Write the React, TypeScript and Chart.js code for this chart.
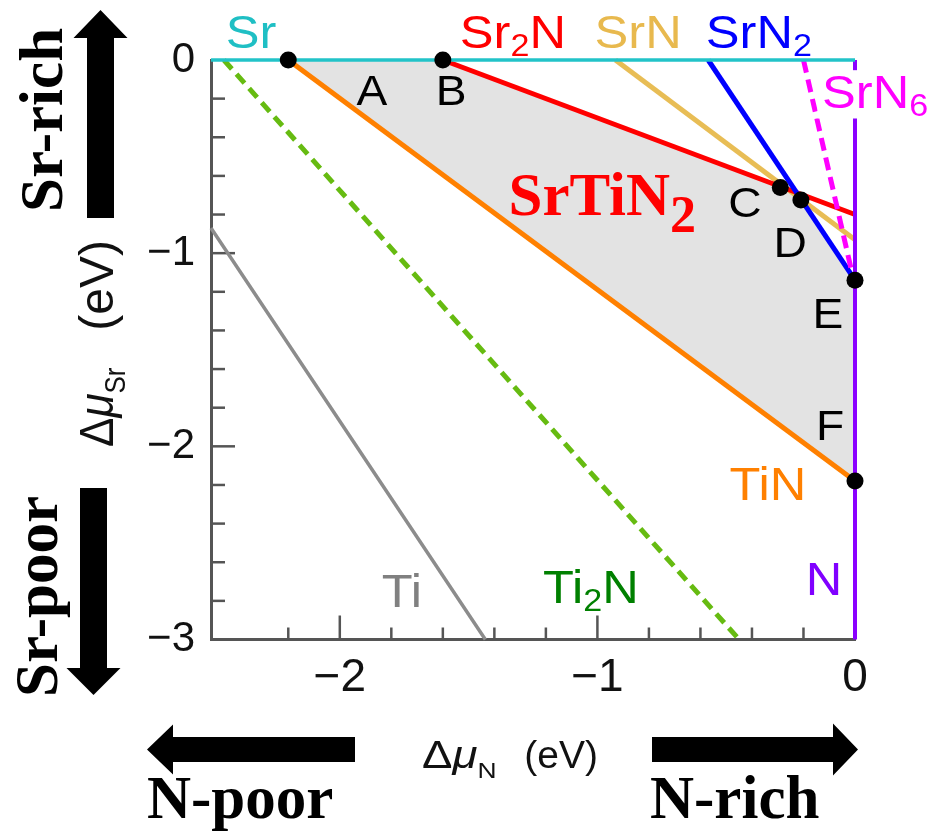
import React, { useEffect, useRef } from 'react';
import { Chart, registerables } from 'chart.js';

Chart.register(...registerables);

// Axis ranges (eV)
const muNRange = [-2.5, 0];
const muSrRange = [-3, 0];

// Boundary lines of the competing phases: [Δμ_N] and [Δμ_Sr] end points
const srN = [-2.5, 0];
const srSr = [0, 0];
const sr2nN = [-1.6, 0];
const sr2nSr = [0, -0.8];
const srnN = [-0.93, 0];
const srnSr = [0, -0.93];
const srn2N = [-0.57, 0];
const srn2Sr = [0, -1.14];
const srn6N = [-0.2, 0];
const srn6Sr = [0, -1.17];
const nN = [0, 0];
const nSr = [0, -3];
const tinN = [-2.2, 0];
const tinSr = [0, -2.18];
const ti2nN = [-2.45, -0.45];
const ti2nSr = [0, -3];
const tiN = [-2.5, -1.435];
const tiSr = [-0.87, -3];

// Stability region of SrTiN2, corners A..F
const regionN = [-2.2, -1.6, -0.29, -0.21, 0, 0];
const regionSr = [0, 0, -0.66, -0.725, -1.14, -2.18];

// Text labels: name, subscript, trailing text, colour, Δμ_N, Δμ_Sr
const phaseLabels = [
  { a: 'Sr', s: '', b: '', c: '#1fbfc4', x: -2.345, y: 0.062 },
  { a: 'Sr', s: '2', b: 'N', c: '#ff0000', x: -1.328, y: 0.062 },
  { a: 'SrN', s: '', b: '', c: '#e8b94e', x: -0.842, y: 0.062 },
  { a: 'SrN', s: '2', b: '', c: '#0000ff', x: -0.373, y: 0.062 },
  { a: 'SrN', s: '6', b: '', c: '#ff00ff', x: 0.078, y: -0.248 },
  { a: 'TiN', s: '', b: '', c: '#ff8000', x: -0.338, y: -2.277 },
  { a: 'N', s: '', b: '', c: '#8000ff', x: -0.12, y: -2.769 },
  { a: 'Ti', s: '2', b: 'N', c: '#008000', x: -1.025, y: -2.811 },
  { a: 'Ti', s: '', b: '', c: '#808080', x: -1.759, y: -2.831 },
];
const cornerNames = ['A', 'B', 'C', 'D', 'E', 'F'];
const cornerLabelN = [-1.875, -1.568, -0.427, -0.252, -0.105, -0.097];
const cornerLabelSr = [-0.233, -0.233, -0.813, -1.02, -1.387, -1.967];

const SANS = '"Liberation Sans", Arial, sans-serif';
const SERIF = '"Liberation Serif", "Times New Roman", serif';

type Run = { t: string; size: number; dy?: number; italic?: boolean };

function drawRuns(
  ctx: CanvasRenderingContext2D,
  runs: Run[],
  x: number,
  y: number,
  o: { align?: 'left' | 'center' | 'right'; family: string; weight?: string; color: string; sx?: number; sy?: number; rotate?: number; bg?: string }
) {
  ctx.save();
  ctx.translate(x, y);
  if (o.rotate) ctx.rotate(o.rotate);
  ctx.scale(o.sx ?? 1, o.sy ?? 1);
  const fonts = runs.map((r) => `${r.italic ? 'italic ' : ''}${o.weight ?? 'normal'} ${r.size}px ${o.family}`);
  const widths = runs.map((r, i) => {
    ctx.font = fonts[i];
    return ctx.measureText(r.t).width;
  });
  const total = widths.reduce((p, w) => p + w, 0);
  let cx = o.align === 'center' ? -total / 2 : o.align === 'right' ? -total : 0;
  if (o.bg) {
    const h = runs[0].size;
    ctx.fillStyle = o.bg;
    ctx.fillRect(cx - 4, -h * 0.82, total + 8, h * 1.05);
  }
  ctx.fillStyle = o.color;
  ctx.textBaseline = 'alphabetic';
  ctx.textAlign = 'left';
  runs.forEach((r, i) => {
    ctx.font = fonts[i];
    ctx.fillText(r.t, cx, r.dy ?? 0);
    cx += widths[i];
  });
  ctx.restore();
}

function blockArrow(ctx: CanvasRenderingContext2D, x1: number, y1: number, x2: number, y2: number, shaft: number, head: number, headLen: number) {
  const dx = x2 - x1;
  const dy = y2 - y1;
  const len = Math.hypot(dx, dy);
  ctx.save();
  ctx.translate(x1, y1);
  ctx.rotate(Math.atan2(dy, dx));
  ctx.fillStyle = '#000';
  ctx.beginPath();
  ctx.moveTo(0, -shaft / 2);
  ctx.lineTo(len - headLen, -shaft / 2);
  ctx.lineTo(len - headLen, -head / 2);
  ctx.lineTo(len, 0);
  ctx.lineTo(len - headLen, head / 2);
  ctx.lineTo(len - headLen, shaft / 2);
  ctx.lineTo(0, shaft / 2);
  ctx.closePath();
  ctx.fill();
  ctx.restore();
}

const isMajor = (v: number) => Math.abs(v - Math.round(v)) < 1e-6;

const axisTicksPlugin = {
  id: 'inwardTicks',
  beforeDatasetsDraw(chart: any) {
    const { ctx, chartArea, scales } = chart;
    ctx.save();
    ctx.strokeStyle = '#555';
    ctx.lineWidth = 2.5;
    for (const t of scales.x.ticks) {
      if (t.value <= muNRange[0] + 1e-6 || t.value >= muNRange[1] - 1e-6) continue;
      const px = scales.x.getPixelForValue(t.value);
      const len = isMajor(t.value) ? 24 : 12;
      ctx.beginPath();
      ctx.moveTo(px, chartArea.bottom);
      ctx.lineTo(px, chartArea.bottom - len);
      ctx.stroke();
    }
    for (const t of scales.y.ticks) {
      if (t.value <= muSrRange[0] + 1e-6 || t.value >= muSrRange[1] - 1e-6) continue;
      const py = scales.y.getPixelForValue(t.value);
      const len = isMajor(t.value) ? 24 : 14;
      ctx.beginPath();
      ctx.moveTo(chartArea.left, py);
      ctx.lineTo(chartArea.left + len, py);
      ctx.stroke();
    }
    ctx.restore();
  },
};

const annotationPlugin = {
  id: 'phaseAnnotations',
  afterDraw(chart: any) {
    const { ctx, scales } = chart;
    const X = (v: number) => scales.x.getPixelForValue(v);
    const Y = (v: number) => scales.y.getPixelForValue(v);

    // phase names
    for (const l of phaseLabels) {
      const runs: Run[] = [{ t: l.a, size: 46 }];
      if (l.s) runs.push({ t: l.s, size: 31, dy: 8 });
      if (l.b) runs.push({ t: l.b, size: 46 });
      drawRuns(ctx, runs, X(l.x), Y(l.y), {
        align: 'center',
        family: SANS,
        color: l.c,
        sx: 1.1,
        bg: l.s === '6' ? '#ffffff' : undefined,
      });
    }

    // corner letters
    cornerNames.forEach((n, i) => {
      drawRuns(ctx, [{ t: n, size: 42 }], X(cornerLabelN[i]), Y(cornerLabelSr[i]), {
        align: 'center',
        family: SANS,
        color: '#000',
        sx: 1.1,
      });
    });

    // compound name inside the region
    drawRuns(
      ctx,
      [
        { t: 'SrTiN', size: 61 },
        { t: '2', size: 52, dy: 17 },
      ],
      X(-1.345),
      Y(-0.802),
      { align: 'left', family: SERIF, weight: 'bold', color: '#ff0000' }
    );

    // axis titles
    drawRuns(
      ctx,
      [
        { t: 'Δ', size: 38 },
        { t: 'μ', size: 38, italic: true },
        { t: 'N', size: 22, dy: 10 },
      ],
      422,
      768,
      { align: 'left', family: SANS, color: '#111', sx: 1.2 }
    );
    drawRuns(ctx, [{ t: '(eV)', size: 39 }], 598, 768, { align: 'right', family: SANS, color: '#111' });

    drawRuns(
      ctx,
      [
        { t: 'Δ', size: 44 },
        { t: 'μ', size: 44, italic: true },
        { t: 'Sr', size: 26, dy: 11 },
      ],
      113,
      447,
      { align: 'left', family: SANS, color: '#111', rotate: -Math.PI / 2, sy: 1.1 }
    );
    drawRuns(ctx, [{ t: '(eV)', size: 48 }], 113, 240, {
      align: 'right',
      family: SANS,
      color: '#111',
      rotate: -Math.PI / 2,
    });

    // direction arrows and their captions
    blockArrow(ctx, 100.5, 218, 100.5, 10, 27, 54, 28);
    blockArrow(ctx, 93.5, 488, 93.5, 695, 27, 54, 27);
    blockArrow(ctx, 355, 749.5, 147, 749.5, 25, 50, 26);
    blockArrow(ctx, 652, 749.5, 858, 749.5, 25, 52, 25);

    drawRuns(ctx, [{ t: 'Sr-rich', size: 61 }], 62, 212, {
      align: 'left',
      family: SERIF,
      weight: 'bold',
      color: '#000',
      rotate: -Math.PI / 2,
    });
    drawRuns(ctx, [{ t: 'Sr-poor', size: 61 }], 57, 697, {
      align: 'left',
      family: SERIF,
      weight: 'bold',
      color: '#000',
      rotate: -Math.PI / 2,
    });
    drawRuns(ctx, [{ t: 'N-poor', size: 61 }], 147, 818, { align: 'left', family: SERIF, weight: 'bold', color: '#000' });
    drawRuns(ctx, [{ t: 'N-rich', size: 61 }], 650, 818, { align: 'left', family: SERIF, weight: 'bold', color: '#000' });
  },
};

const pts = (xs: number[], ys: number[]) => xs.map((x, i) => ({ x, y: ys[i] }));

const lineSet = (label: string, xs: number[], ys: number[], color: string, width: number, order: number, dash: number[] = []) => ({
  label,
  data: pts(xs, ys),
  showLine: true,
  borderColor: color,
  borderWidth: width,
  borderDash: dash,
  pointRadius: 0,
  fill: false,
  clip: false,
  order,
});

const tickLabel = (v: number) => {
  if (!isMajor(v)) return '';
  const r = Math.round(v);
  return r < 0 ? '\u2212' + Math.abs(r) : String(r);
};

export default function App() {
  const ref = useRef<HTMLCanvasElement | null>(null);

  useEffect(() => {
    if (!ref.current) return;
    const chart = new Chart(ref.current, {
      type: 'scatter',
      data: {
        datasets: [
          {
            label: 'corners',
            data: pts(regionN, regionSr),
            showLine: false,
            pointRadius: 8.5,
            pointBackgroundColor: '#000',
            pointBorderWidth: 0,
            clip: false,
            order: 0,
          } as any,
          lineSet('Sr', srN, srSr, '#22c3c8', 3.5, 1),
          lineSet('N', nN, nSr, '#8a00ff', 4, 1),
          lineSet('SrN6', srn6N, srn6Sr, '#ff00ff', 5, 2, [13, 7]),
          lineSet('SrN2', srn2N, srn2Sr, '#0000ff', 5, 2),
          lineSet('Sr2N', sr2nN, sr2nSr, '#ff0000', 5, 3),
          lineSet('SrN', srnN, srnSr, '#e8bd55', 5, 4),
          lineSet('TiN', tinN, tinSr, '#ff8000', 5, 3),
          lineSet('Ti2N', ti2nN, ti2nSr, '#66bb11', 5, 3, [12, 7]),
          lineSet('Ti', tiN, tiSr, '#8c8c8c', 3.5, 3),
          {
            label: 'SrTiN2',
            data: pts(regionN, regionSr),
            showLine: true,
            borderColor: 'rgba(0,0,0,0)',
            borderWidth: 0,
            pointRadius: 0,
            backgroundColor: '#e3e3e3',
            fill: 'shape',
            order: 10,
          } as any,
        ],
      },
      options: {
        animation: false,
        responsive: false,
        devicePixelRatio: 1,
        layout: { padding: { left: 0, top: 60, right: 74, bottom: 0 } },
        plugins: { legend: { display: false }, tooltip: { enabled: false } },
        scales: {
          x: {
            type: 'linear',
            min: muNRange[0],
            max: muNRange[1],
            grid: { display: false, drawTicks: false },
            border: { display: true, color: '#555', width: 3 },
            ticks: {
              stepSize: 0.2,
              autoSkip: false,
              maxRotation: 0,
              padding: 11,
              color: '#111',
              font: { family: SANS, size: 46 },
              callback: (v: any) => tickLabel(Number(v)),
            },
            afterFit: (s: any) => {
              s.height = 832 - 639.5;
            },
          },
          y: {
            type: 'linear',
            min: muSrRange[0],
            max: muSrRange[1],
            grid: { display: false, drawTicks: false },
            border: { display: true, color: '#555', width: 3 },
            ticks: {
              stepSize: 0.2,
              autoSkip: false,
              padding: 16,
              color: '#111',
              font: { family: SANS, size: 42 },
              callback: (v: any) => tickLabel(Number(v)),
            },
            afterFit: (s: any) => {
              s.width = 211;
            },
          },
        },
      } as any,
      plugins: [axisTicksPlugin, annotationPlugin],
    });
    return () => chart.destroy();
  }, []);

  return (
    <div style={{ position: 'fixed', left: 0, top: 0, width: 929, height: 832, background: '#fff' }}>
      <canvas ref={ref} width={929} height={832} style={{ width: 929, height: 832 }} />
    </div>
  );
}
